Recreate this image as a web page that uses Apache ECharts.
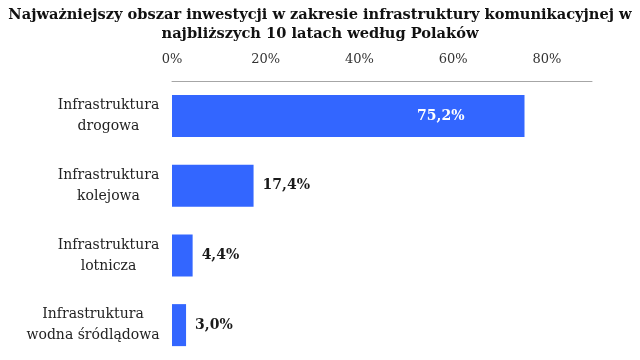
<!DOCTYPE html>
<html><head><meta charset="utf-8">
<script src="https://cdn.jsdelivr.net/npm/echarts@6/dist/echarts.min.js"></script>
<style>html,body{margin:0;padding:0;background:#fff}#c{width:640px;height:360px}</style>
</head><body><div id="c"></div>
<script>
var titleText = 'Najważniejszy obszar inwestycji w zakresie infrastruktury komunikacyjnej w\nnajbliższych 10 latach według Polaków';
var categories = ['Infrastruktura\ndrogowa', 'Infrastruktura\nkolejowa', 'Infrastruktura\nlotnicza', 'Infrastruktura\nwodna śródlądowa'];
var values = [75.2, 17.4, 4.4, 3.0];
var axisMax = 89.6;

var serif = 'DejaVu Serif';
var labelFontSize = 14;
var ctx = document.createElement('canvas').getContext('2d');
ctx.font = labelFontSize + 'px "' + serif + '"';
var rich = {};
categories.forEach(function (c, i) {
  var w = Math.max.apply(null, c.split('\n').map(function (s) { return ctx.measureText(s).width; }));
  rich['l' + i] = {width: Math.ceil(w) + 1, align: 'center', fontFamily: serif, fontSize: labelFontSize, color: '#222', lineHeight: 21};
});

var chart = echarts.init(document.getElementById('c'), null, {renderer: 'canvas'});
chart.setOption({
  animation: false,
  backgroundColor: '#fff',
  title: {
    text: titleText, left: 'center', top: 1,
    textStyle: {fontFamily: serif, fontWeight: 'bold', fontSize: 14.6, color: '#111', lineHeight: 19}
  },
  grid: {left: 172, right: 48, top: 81, height: 289, containLabel: false},
  xAxis: {
    type: 'value', position: 'top', min: 0, max: axisMax, interval: 20,
    axisLine: {show: true, lineStyle: {color: '#a6a6a6', width: 1}},
    axisTick: {show: false}, splitLine: {show: false},
    axisLabel: {formatter: '{value}%', fontFamily: serif, fontSize: 13, color: '#333', margin: 15, showMaxLabel: false}
  },
  yAxis: {
    type: 'category', inverse: true, data: categories,
    axisLine: {show: false}, axisTick: {show: false},
    axisLabel: {
      margin: 12, align: 'right', rich: rich,
      formatter: function (v, i) {
        return v.split('\n').map(function (s) { return '{l' + i + '|' + s + '}'; }).join('\n');
      }
    }
  },
  series: [{
    type: 'bar', data: values.map(function (v, i) {
      return i === 0 ? {value: v, label: {position: 'insideRight', offset: [-51, 0], color: '#fff'}} : v;
    }),
    barWidth: 42,
    itemStyle: {color: '#3366ff'},
    label: {
      show: true, position: 'right', distance: 9,
      fontFamily: serif, fontWeight: 'bold', fontSize: 14, color: '#1a1a1a',
      formatter: function (p) { return p.value.toFixed(1).replace('.', ',') + '%'; }
    }
  }]
});
</script></body></html>
